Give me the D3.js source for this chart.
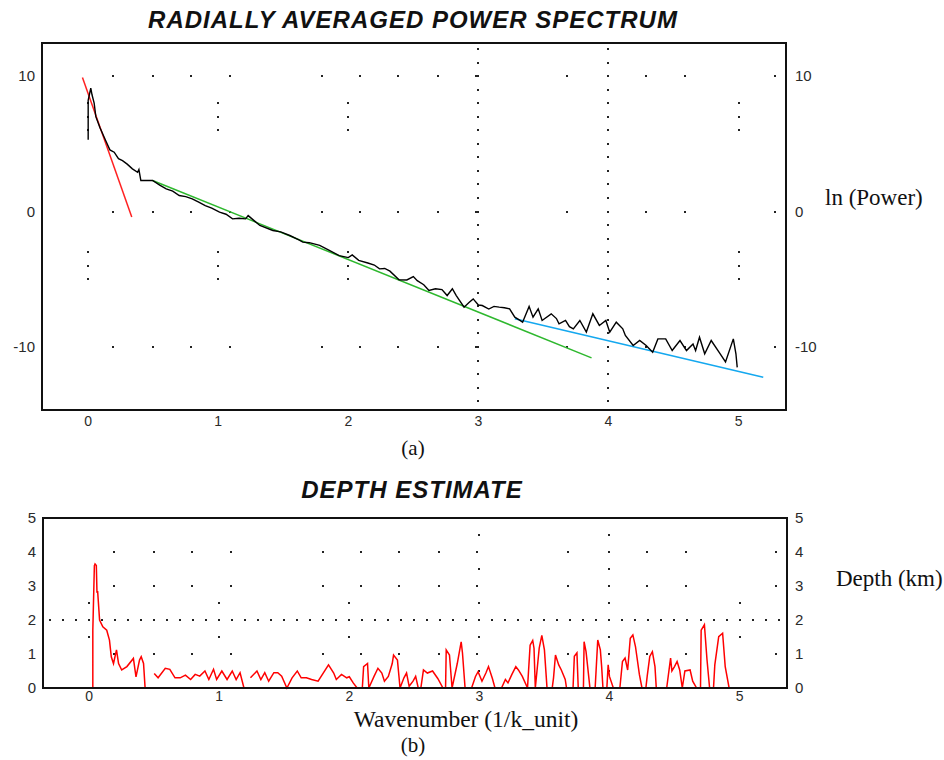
<!DOCTYPE html>
<html>
<head>
<meta charset="utf-8">
<title>Radially averaged power spectrum</title>
<script src="https://d3js.org/d3.v7.min.js"></script>
<style>
  body { margin: 0; background: #fff; }
</style>
</head>
<body>
<script>
// ---- data ----
// top: ln(power) against wavenumber
var specK = [0, 0, 0.02, 0.03, 0.046, 0.059, 0.09, 0.136, 0.167, 0.2, 0.233, 0.264, 0.3, 0.34, 0.38, 0.39, 0.405, 0.495,
  0.55, 0.6, 0.65, 0.7, 0.75, 0.8, 0.85, 0.9, 0.95, 1.01, 1.06, 1.11, 1.16, 1.21, 1.23, 1.32, 1.42, 1.48, 1.55, 1.62, 1.65,
  1.7, 1.78, 1.85, 1.93, 2.0, 2.03, 2.08, 2.15, 2.2, 2.24, 2.28, 2.32, 2.39, 2.45, 2.5, 2.53, 2.58, 2.62, 2.67, 2.72, 2.76,
  2.8, 2.83, 2.89, 2.93, 2.96, 3.0, 3.03, 3.08, 3.12, 3.16, 3.2, 3.24, 3.28, 3.32, 3.34, 3.39, 3.42, 3.46, 3.49, 3.56, 3.6,
  3.62, 3.67, 3.7, 3.73, 3.78, 3.83, 3.88, 3.93, 3.98, 4.01, 4.06, 4.11, 4.13, 4.19, 4.24, 4.29, 4.34, 4.38, 4.44, 4.49,
  4.55, 4.6, 4.65, 4.67, 4.7, 4.74, 4.79, 4.85, 4.9, 4.96, 4.98, 4.99];
var specLnP = [5.3, 8.2, 9.1, 8.6, 8.0, 7.0, 6.2, 5.2, 4.55, 4.38, 3.9, 3.76, 3.5, 3.15, 2.9, 3.1, 2.29, 2.29,
  1.95, 1.67, 1.5, 1.18, 1.1, 0.94, 0.7, 0.44, 0.25, -0.05, -0.2, -0.54, -0.5, -0.54, -0.3, -1.03, -1.4, -1.5, -1.77, -2.1, -2.26,
  -2.3, -2.5, -2.85, -3.25, -3.4, -3.2, -3.6, -3.8, -3.95, -4.23, -4.2, -4.4, -5.04, -5.05, -4.8, -5.1, -5.4, -5.83, -5.7, -5.76, -6.2,
  -5.7, -6.2, -7.06, -6.7, -6.45, -6.9, -6.94, -7.2, -7.0, -7.06, -7.1, -7.18, -7.8, -8.04, -8.17, -7.0, -7.8, -7.18, -8.04, -7.55, -7.9,
  -8.29, -8.04, -8.5, -8.66, -8.04, -8.9, -7.55, -8.41, -8.04, -8.9, -8.17, -8.66, -9.15, -9.89, -9.52, -9.89, -10.38, -9.4, -9.4, -10.26,
  -9.52, -10.26, -9.77, -10.26, -9.28, -10.5, -9.52, -10.38, -11.1, -9.4, -10.5, -11.5];

// straight-line fits (start and end)
var redFitK = [-0.044, 0.335], redFitP = [9.9, -0.4];
var greenFitK = [0.495, 3.87], greenFitP = [2.29, -10.8];
var blueFitK = [3.28, 5.19], blueFitP = [-7.92, -12.23];

// bottom: depth estimate (null = gap in the curve)
var depthK = [0.028, 0.028, 0.04, 0.045, 0.055, 0.06, 0.065, 0.08, 0.105, 0.135, 0.156, 0.17, 0.187, 0.21, 0.226, 0.25, 0.29,
  0.34, 0.36, 0.387, 0.4, 0.418, 0.43, 0.47, 0.485, 0.5, 0.53, 0.585, 0.62, 0.66, 0.7, 0.74, 0.78, 0.815, 0.85, 0.89, 0.92,
  0.956, 0.98, 1.02, 1.06, 1.1, 1.13, 1.16, 1.19, 1.21, 1.225, 1.24, 1.29, 1.32, 1.35, 1.38, 1.42, 1.45, 1.48, 1.52, 1.56,
  1.6, 1.63, 1.67, 1.71, 1.76, 1.84, 1.88, 1.9, 1.94, 1.98, 2.0, 2.03, 2.06, 2.1, 2.11, 2.14, 2.15, 2.19, 2.22, 2.25, 2.27,
  2.3, 2.33, 2.34, 2.37, 2.39, 2.42, 2.44, 2.46, 2.49, 2.51, 2.53, 2.55, 2.57, 2.6, 2.64, 2.68, 2.72, 2.74, 2.745, 2.77,
  2.79, 2.83, 2.86, 2.87, 2.89, 2.94, 2.97, 2.99, 3.02, 3.05, 3.07, 3.1, 3.12, 3.17, 3.2, 3.22, 3.25, 3.28, 3.3, 3.33,
  3.37, 3.39, 3.41, 3.42, 3.43, 3.46, 3.48, 3.5, 3.52, 3.56, 3.57, 3.585, 3.61, 3.63, 3.66, 3.67, 3.72, 3.73, 3.75, 3.76,
  3.8, 3.805, 3.82, 3.85, 3.89, 3.91, 3.93, 3.94, 3.95, 3.98, 3.99, 4.0, 4.03, 4.08, 4.1, 4.12, 4.14, 4.16, 4.18, 4.2,
  4.23, 4.25, 4.28, 4.29, 4.31, 4.33, 4.35, 4.36, 4.44, 4.47, 4.48, 4.5, 4.52, 4.54, 4.56, 4.58, 4.62, 4.64, 4.67, 4.7,
  4.705, 4.73, 4.75, 4.77, 4.8, 4.81, 4.84, 4.87, 4.89, 4.92, 4.95];
var depthKm = [0, 1.7, 3.6, 3.65, 3.6, 2.8, 2.85, 2.0, 1.8, 1.7, 1.41, 0.92, 0.72, 1.12, 0.72, 0.53, 0.63,
  0.87, 0.33, 0.82, 0.92, 0.72, 0, 0, null, 0.43, 0.3, 0.58, 0.55, 0.3, 0.3, 0.38, 0.25, 0.4, 0.35, 0.5, 0.25,
  0.55, 0.25, 0.5, 0.25, 0.5, 0.25, 0.45, 0, 0, null, 0.3, 0.5, 0.25, 0.45, 0.2, 0.45, 0.45, 0.35, 0, 0.3,
  0.5, 0.3, 0.3, 0.25, 0.2, 0.68, 0.44, 0.25, 0.4, 0.3, 0.33, 0.15, 0, 0, 0.63, 0.72, 0, 0.34, 0.58, 0.44, 0.2,
  0.34, 0.72, 0.97, 0.82, 0, 0.3, 0.44, 0.05, 0.2, 0.34, 0, 0, 0.53, 0.44, 0.5, 0.28, 0, 0, 1.12, 0.97,
  0, 0.72, 1.36, 1.03, 0, 0, 0.34, 0.48, 0.2, 0.44, 0.63, 0.28, 0, 0, 0.25, 0.15, 0.4, 0.63, 0.53, 0.34,
  0, 1.26, 1.4, 1.17, 0, 1.17, 1.55, 1.12, 0, 0, 0.3, 0.97, 0.68, 0.53, 0.25, 0, 0, 0.93, 1.03, 0,
  0, 1.36, 1.07, 0, 0, 1.41, 1.12, 0.63, 0, 0, 0.68, 0.34, 0, 0, 0.78, 0.88, 0.53, 1.46, 1.56, 1.22,
  0.4, 0, 0, 0.34, 0.93, 1.07, 0.63, 0, 0, 0.88, 0.5, 0.63, 0.78, 0.53, 0, 0.5, 0.53, 0.2, 0, 0,
  1.7, 1.86, 0.83, 0, 0, 0.68, 1.51, 1.61, 0.63, 0, 0];

var xTicks = [0, 1, 2, 3, 4, 5];
var powerTicks = [10, 0, -10];
var depthTicks = [0, 1, 2, 3, 4, 5];
// where the sparse grid dots survive along the dotted rows
var gridDotK = [0.19, 0.5, 0.79, 1.09, 1.8, 2.09, 2.38, 2.69, 2.98, 3.68, 4.0, 4.29, 4.59, 5.28];

// ---- layout ----
var W = 944, H = 760;
var svg = d3.select("body").append("svg")
  .attr("width", W)
  .attr("height", H);

var sans = "Arial, 'Liberation Sans', sans-serif";
var serif = "'Times New Roman', 'Liberation Serif', serif";

var xTop = d3.scaleLinear().domain([-0.355, 5.365]).range([42, 786]);
var yTop = d3.scaleLinear().domain([-14.65, 12.44]).range([410, 43]);
var xBot = d3.scaleLinear().domain([-0.355, 5.365]).range([43, 787]);
var yBot = d3.scaleLinear().domain([0, 5]).range([688, 518]);

function dot(g, x, y) {
  g.append("rect")
    .attr("x", Math.round(x) - 1)
    .attr("y", Math.round(y) - 1)
    .attr("width", 2)
    .attr("height", 2)
    .attr("fill", "#222");
}

// ---- top chart ----
var topG = svg.append("g");
var gridT = topG.append("g");
powerTicks.forEach(function (v) {
  gridDotK.forEach(function (k) { dot(gridT, xTop(k), yTop(v)); });
});
[3, 4].forEach(function (k) {
  d3.range(12, -15, -1).forEach(function (v) { dot(gridT, xTop(k), yTop(v)); });
});
[0, 1, 2, 5].forEach(function (k) {
  [8, 7, 6, -3, -4, -5].forEach(function (v) { dot(gridT, xTop(k), yTop(v)); });
});

var specLine = d3.line()
  .x(function (d) { return xTop(d[0]); })
  .y(function (d) { return yTop(d[1]); });

[[redFitK, redFitP, "#ff2020"], [greenFitK, greenFitP, "#2eb82e"], [blueFitK, blueFitP, "#14a8ef"]]
  .forEach(function (f) {
    topG.append("path")
      .datum(d3.zip(f[0], f[1]))
      .attr("d", specLine)
      .attr("fill", "none")
      .attr("stroke", f[2])
      .attr("stroke-width", 1.5);
  });

topG.append("path")
  .datum(d3.zip(specK, specLnP))
  .attr("d", specLine)
  .attr("fill", "none")
  .attr("stroke", "#000")
  .attr("stroke-width", 1.4);

topG.append("rect")
  .attr("x", xTop.range()[0]).attr("y", yTop.range()[1])
  .attr("width", xTop.range()[1] - xTop.range()[0])
  .attr("height", yTop.range()[0] - yTop.range()[1])
  .attr("fill", "none").attr("stroke", "#111").attr("stroke-width", 2);

// tick labels
var tickStyle = function (sel, size) {
  sel.attr("font-family", sans).attr("font-size", size).attr("fill", "#2a2a2a");
};
topG.selectAll(".yl").data(powerTicks).enter().append("text")
  .attr("x", 35).attr("y", function (d) { return yTop(d); }).attr("dy", "0.36em")
  .attr("text-anchor", "end").text(function (d) { return d; }).call(tickStyle, 15);
topG.selectAll(".yr").data(powerTicks).enter().append("text")
  .attr("x", 795).attr("y", function (d) { return yTop(d); }).attr("dy", "0.36em")
  .text(function (d) { return d; }).call(tickStyle, 15);
topG.selectAll(".xl").data(xTicks).enter().append("text")
  .attr("x", function (d) { return xTop(d); }).attr("y", 426)
  .attr("text-anchor", "middle").text(function (d) { return d; }).call(tickStyle, 14);

topG.append("text").attr("x", 413).attr("y", 28).attr("text-anchor", "middle")
  .attr("font-family", sans).attr("font-size", 24).attr("font-weight", "bold").attr("font-style", "italic")
  .attr("letter-spacing", 1).attr("fill", "#111")
  .text("RADIALLY AVERAGED POWER SPECTRUM");
topG.append("text").attr("x", 825).attr("y", 205)
  .attr("font-family", serif).attr("font-size", 23).attr("fill", "#111").text("ln (Power)");
topG.append("text").attr("x", 413).attr("y", 455).attr("text-anchor", "middle")
  .attr("font-family", serif).attr("font-size", 21).attr("fill", "#111").text("(a)");

// ---- bottom chart ----
var botG = svg.append("g");
var gridB = botG.append("g");
[5, 4, 3, 1].forEach(function (v) {
  gridDotK.forEach(function (k) { dot(gridB, xBot(k), yBot(v)); });
});
d3.range(-3, 54).forEach(function (i) { dot(gridB, xBot(i / 10), yBot(2)); });
[3, 4].forEach(function (k) {
  [4.5, 3.5, 2.5, 1.5, 0.5].forEach(function (v) { dot(gridB, xBot(k), yBot(v)); });
});
[0, 1, 2, 5].forEach(function (k) {
  [2.5, 1.5].forEach(function (v) { dot(gridB, xBot(k), yBot(v)); });
});

botG.append("path")
  .datum(d3.zip(depthK, depthKm))
  .attr("d", d3.line()
    .defined(function (d) { return d[1] !== null; })
    .x(function (d) { return xBot(d[0]); })
    .y(function (d) { return yBot(d[1]); }))
  .attr("fill", "none")
  .attr("stroke", "#ff0000")
  .attr("stroke-width", 1.5);

botG.append("rect")
  .attr("x", xBot.range()[0]).attr("y", yBot.range()[1])
  .attr("width", xBot.range()[1] - xBot.range()[0])
  .attr("height", yBot.range()[0] - yBot.range()[1])
  .attr("fill", "none").attr("stroke", "#111").attr("stroke-width", 2);

botG.selectAll(".yl").data(depthTicks).enter().append("text")
  .attr("x", 36).attr("y", function (d) { return yBot(d); }).attr("dy", "0.36em")
  .attr("text-anchor", "end").text(function (d) { return d; }).call(tickStyle, 15);
botG.selectAll(".yr").data(depthTicks).enter().append("text")
  .attr("x", 795).attr("y", function (d) { return yBot(d); }).attr("dy", "0.36em")
  .text(function (d) { return d; }).call(tickStyle, 15);
botG.selectAll(".xl").data(xTicks).enter().append("text")
  .attr("x", function (d) { return xBot(d); }).attr("y", 701)
  .attr("text-anchor", "middle").text(function (d) { return d; }).call(tickStyle, 14);

botG.append("text").attr("x", 412).attr("y", 498).attr("text-anchor", "middle")
  .attr("font-family", sans).attr("font-size", 24).attr("font-weight", "bold").attr("font-style", "italic")
  .attr("letter-spacing", 1).attr("fill", "#111")
  .text("DEPTH ESTIMATE");
botG.append("text").attr("x", 836).attr("y", 586)
  .attr("font-family", serif).attr("font-size", 23).attr("fill", "#111").text("Depth (km)");
botG.append("text").attr("x", 466).attr("y", 727).attr("text-anchor", "middle")
  .attr("font-family", serif).attr("font-size", 23.5).attr("fill", "#111").text("Wavenumber (1/k_unit)");
botG.append("text").attr("x", 413).attr("y", 752).attr("text-anchor", "middle")
  .attr("font-family", serif).attr("font-size", 21).attr("fill", "#111").text("(b)");
</script>
</body>
</html>
